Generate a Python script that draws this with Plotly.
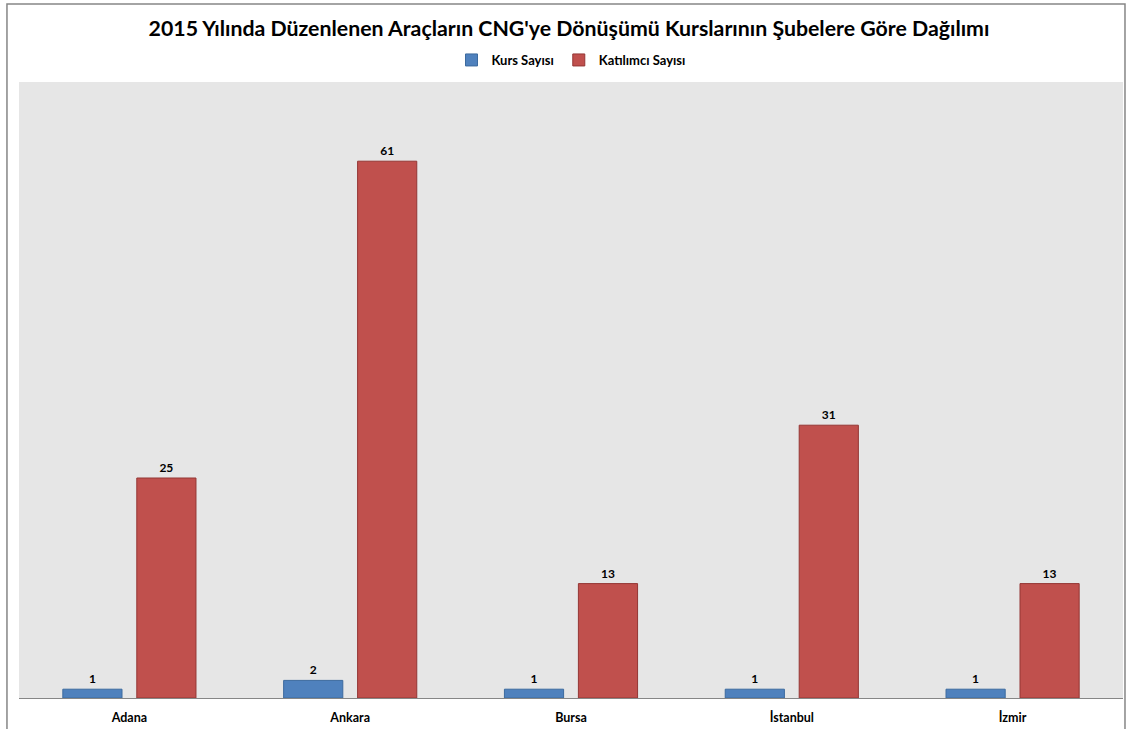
import plotly.graph_objects as go

CATEGORIES = ["Adana", "Ankara", "Bursa", "İstanbul", "İzmir"]
KURS_SAYISI = [1, 2, 1, 1, 1]
KATILIMCI_SAYISI = [25, 61, 13, 31, 13]

BLUE = "#4f81bd"
BLUE_EDGE = "#3c6a9e"
RED = "#c0504d"
RED_EDGE = "#943634"
FONT = "Lato"

fig = go.Figure()
fig.add_trace(go.Bar(
    x=CATEGORIES, y=KURS_SAYISI, name="<b>Kurs Sayısı</b>",
    marker={"color": BLUE, "line": {"color": BLUE_EDGE, "width": 1}},
    text=KURS_SAYISI, texttemplate="<b>%{text}</b>", textposition="outside", cliponaxis=False,
    textfont={"family": FONT, "size": 12, "color": "#000000"},
))
fig.add_trace(go.Bar(
    x=CATEGORIES, y=KATILIMCI_SAYISI, name="<b>Katılımcı Sayısı</b>",
    marker={"color": RED, "line": {"color": RED_EDGE, "width": 1}},
    text=KATILIMCI_SAYISI, texttemplate="<b>%{text}</b>", textposition="outside", cliponaxis=False,
    textfont={"family": FONT, "size": 12, "color": "#000000"},
))

fig.update_layout(
    width=1138, height=729,
    margin={"l": 19, "r": 15, "t": 82, "b": 31, "autoexpand": False},
    paper_bgcolor="white", plot_bgcolor="#e6e6e6",
    barmode="group", bargap=0.33, bargroupgap=0.2,
    font={"family": FONT, "color": "#000000"},
    title={"text": "<b>2015 Yılında Düzenlenen Araçların CNG'ye Dönüşümü Kurslarının Şubelere Göre Dağılımı</b>",
           "x": 0.5, "xanchor": "center", "y": 1 - 29 / 729, "yanchor": "middle",
           "font": {"size": 21.3, "family": FONT}},
    legend={"orientation": "h", "x": 0.5, "xanchor": "center", "y": (698 - 60) / 616, "yanchor": "middle",
            "font": {"size": 13, "family": FONT}, "itemwidth": 30,
            "bgcolor": "rgba(0,0,0,0)"},
    showlegend=True,
)
fig.update_xaxes(showgrid=False, showline=True, linecolor="#868686", linewidth=1,
                 ticks="", ticklabelstandoff=8,
                 tickfont={"size": 12.5, "family": FONT, "weight": "bold"})
fig.update_yaxes(range=[0, 70], visible=False, showgrid=False)

# outer chart border
fig.add_shape(type="rect", xref="paper", yref="paper",
              x0=-0.0109, x1=1.0018, y0=-0.2, y1=1.1266,
              line={"color": "#868686", "width": 1.5}, fillcolor="rgba(0,0,0,0)", layer="below")

# page body margin would shift the figure by 8px
fig.write_html("out.html", config={"displayModeBar": False},
               post_script="document.body.style.margin='0';")
